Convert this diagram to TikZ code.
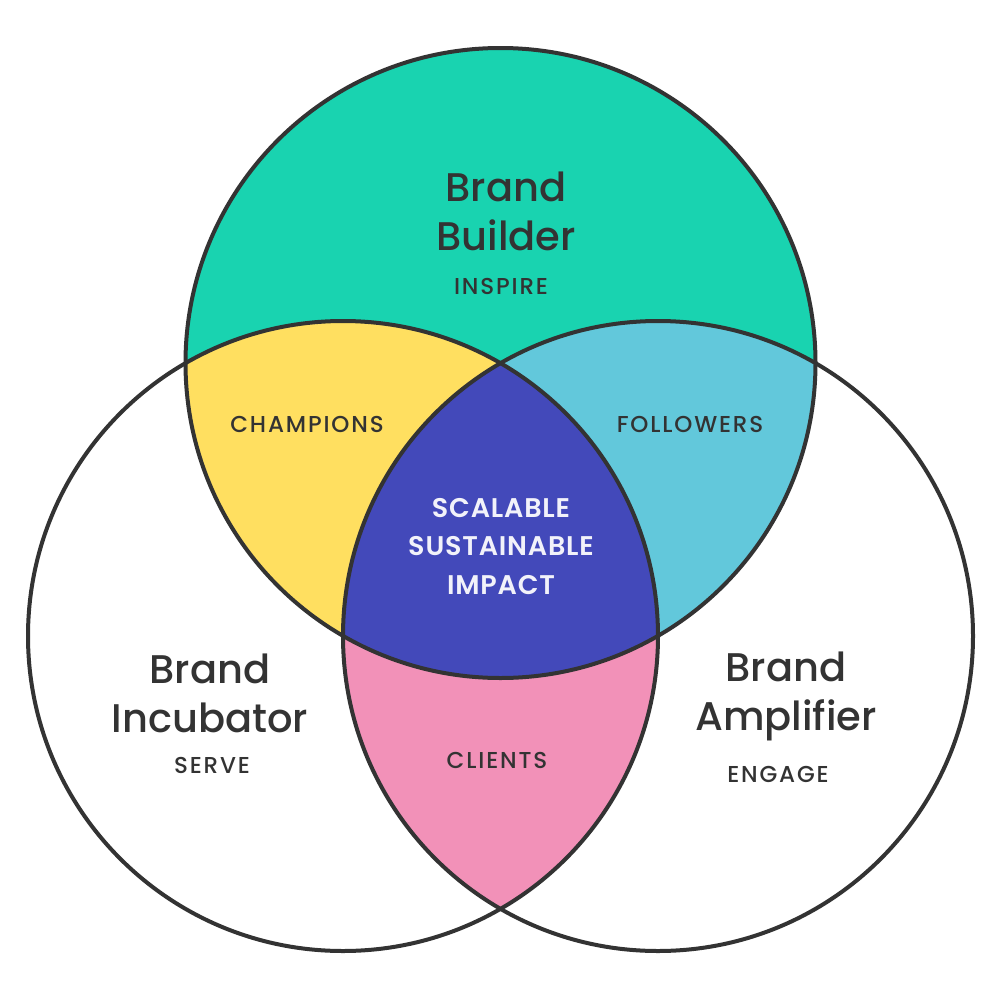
\documentclass[tikz,border=0pt]{standalone}
\usepackage{fontspec}
\setmainfont{Poppins}
\newfontfamily\titlefont{Poppins Medium}
\newfontfamily\labelfont[LetterSpace=8]{Poppins Medium}
\newfontfamily\centerfont[LetterSpace=3]{Poppins SemiBold}
\definecolor{cteal}{HTML}{19D3B0}
\definecolor{cyellow}{HTML}{FFDF60}
\definecolor{clblue}{HTML}{62C8DB}
\definecolor{cdblue}{HTML}{4349BA}
\definecolor{cpink}{HTML}{F291B8}
\definecolor{cink}{HTML}{333333}
\definecolor{cwhite}{HTML}{F2F2FA}
\tikzset{
  ring/.style={draw=cink, line width=4pt},
  titletext/.style={anchor=base, align=center, text=cink, inner sep=0pt,
    font=\titlefont\fontsize{40}{49}\selectfont},
  labeltext/.style={anchor=base, text=cink, inner sep=0pt,
    font=\labelfont\fontsize{23}{27}\selectfont},
  centertext/.style={anchor=base, align=center, text=cwhite, inner sep=0pt,
    font=\centerfont\fontsize{27}{38.5}\selectfont},
}
\begin{document}
\begin{tikzpicture}[x=1pt,y=-1pt]
\useasboundingbox (0,0) rectangle (1001,1001);
\fill[white] (0,0) rectangle (1001,1001);
\coordinate (T) at (500.5,363);
\coordinate (L) at (343,636);
\coordinate (R) at (658,636);
\def\rad{315pt}
% fills
\fill[cteal] (T) circle[radius=\rad];
\begin{scope}
  \clip (L) circle[radius=\rad];
  \fill[cyellow] (T) circle[radius=\rad];
  \fill[cpink] (R) circle[radius=\rad];
\end{scope}
\begin{scope}
  \clip (R) circle[radius=\rad];
  \fill[clblue] (T) circle[radius=\rad];
\end{scope}
\begin{scope}
  \clip (L) circle[radius=\rad];
  \clip (R) circle[radius=\rad];
  \fill[cdblue] (T) circle[radius=\rad];
\end{scope}
% outlines
\draw[ring] (T) circle[radius=\rad];
\draw[ring] (L) circle[radius=\rad];
\draw[ring] (R) circle[radius=\rad];
% texts (base anchor = baseline of the last line)
\node[titletext] (builder) at (506,250) {Brand\\Builder};
\node[labeltext] (inspire) at (501,294) {INSPIRE};
\node[titletext] (incubator) at (210,732) {Brand\\Incubator};
\node[labeltext] (serve) at (212,773) {SERVE};
\node[titletext] (amplifier) at (786,730) {Brand\\Amplifier};
\node[labeltext] (engage) at (778,782) {ENGAGE};
\node[labeltext] (champions) at (307,432) {CHAMPIONS};
\node[labeltext] (followers) at (690,432) {FOLLOWERS};
\node[labeltext] (clients) at (497,768) {CLIENTS};
\node[centertext] (impact) at (501,594) {SCALABLE\\SUSTAINABLE\\IMPACT};
\end{tikzpicture}
\end{document}
